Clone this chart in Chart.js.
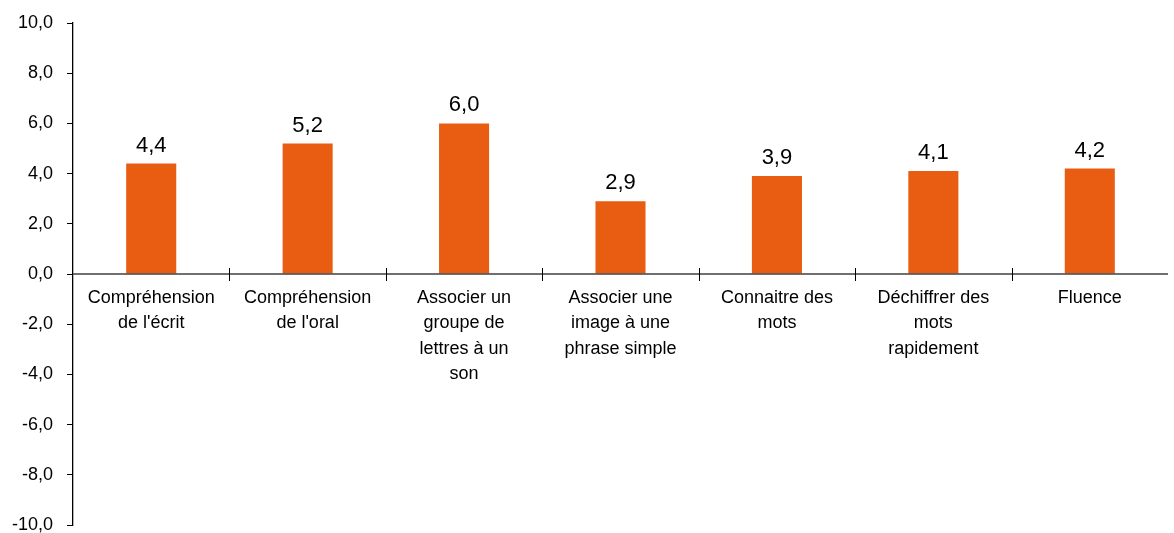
<!DOCTYPE html>
<html><head><meta charset="utf-8">
<script src="https://cdn.jsdelivr.net/npm/chart.js@4.4.1/dist/chart.umd.min.js"></script>
<style>html,body{margin:0;padding:0;overflow:hidden;background:#fff;width:1174px;height:533px}
#wrap{position:relative;width:1174px;height:545px}</style>
</head><body><div id="wrap"><canvas id="c"></canvas></div>
<script>
const categories = [
  ["Compréhension","de l'écrit"],
  ["Compréhension","de l'oral"],
  ["Associer un","groupe de","lettres à un","son"],
  ["Associer une","image à une","phrase simple"],
  ["Connaitre des","mots"],
  ["Déchiffrer des","mots","rapidement"],
  ["Fluence"]
];
const values = [4.4, 5.2, 6.0, 2.9, 3.9, 4.1, 4.2];
const yMin = -10, yMax = 10, yStep = 2;

const fmt = v => v.toFixed(1).replace('.', ',');
const FONT = "'Liberation Sans', Arial, sans-serif";

const extras = {
  id: 'extras',
  afterDatasetsDraw(chart) {
    const ctx = chart.ctx, x = chart.scales.x, y = chart.scales.y;
    const y0 = y.getPixelForValue(0);
    ctx.save();
    ctx.strokeStyle = '#404040'; ctx.lineWidth = 1.3;
    ctx.beginPath(); ctx.moveTo(chart.chartArea.left, y0); ctx.lineTo(chart.chartArea.right, y0); ctx.stroke();
    const n = categories.length;
    ctx.strokeStyle = '#000'; ctx.lineWidth = 1;
    for (let i = 1; i < n; i++) {
      const px = Math.round((x.getPixelForValue(i - 1) + x.getPixelForValue(i)) / 2) + 0.5;
      ctx.beginPath(); ctx.moveTo(px, y0 - 6); ctx.lineTo(px, y0 + 7); ctx.stroke();
    }
    ctx.fillStyle = '#000'; ctx.font = '22px ' + FONT;
    ctx.textAlign = 'center'; ctx.textBaseline = 'bottom';
    chart.getDatasetMeta(0).data.forEach((bar, i) => {
      ctx.fillText(fmt(values[i]), bar.x, bar.y - 7);
    });
    ctx.restore();
  }
};

new Chart(document.getElementById('c'), {
  type: 'bar',
  data: { labels: categories, datasets: [{ data: values, backgroundColor: '#E95D13', barPercentage: 0.32, categoryPercentage: 1 }] },
  options: {
    responsive: true, maintainAspectRatio: false, animation: false,
    layout: { padding: { top: 23, right: 6, bottom: 20, left: 0 } },
    plugins: { legend: { display: false }, tooltip: { enabled: false } },
    scales: {
      x: {
        position: { y: 0 },
        afterFit(s) { s.paddingLeft = 0; s.paddingRight = 0; },
        grid: { display: false, drawOnChartArea: false },
        border: { display: false },
        ticks: { color: '#000', font: { family: FONT, size: 18, lineHeight: 1.39 }, maxRotation: 0, autoSkip: false, padding: 4 }
      },
      y: {
        min: yMin, max: yMax,
        afterFit(s) { s.width = 73; s.paddingTop = 0; s.paddingBottom = 0; },
        grid: { drawOnChartArea: false, tickLength: 6, tickColor: '#000' },
        border: { display: true, color: '#000', width: 1.3 },
        ticks: { stepSize: yStep, color: '#000', font: { family: FONT, size: 18 }, padding: 14, callback: v => fmt(v) }
      }
    }
  },
  plugins: [extras]
});
</script></body></html>
